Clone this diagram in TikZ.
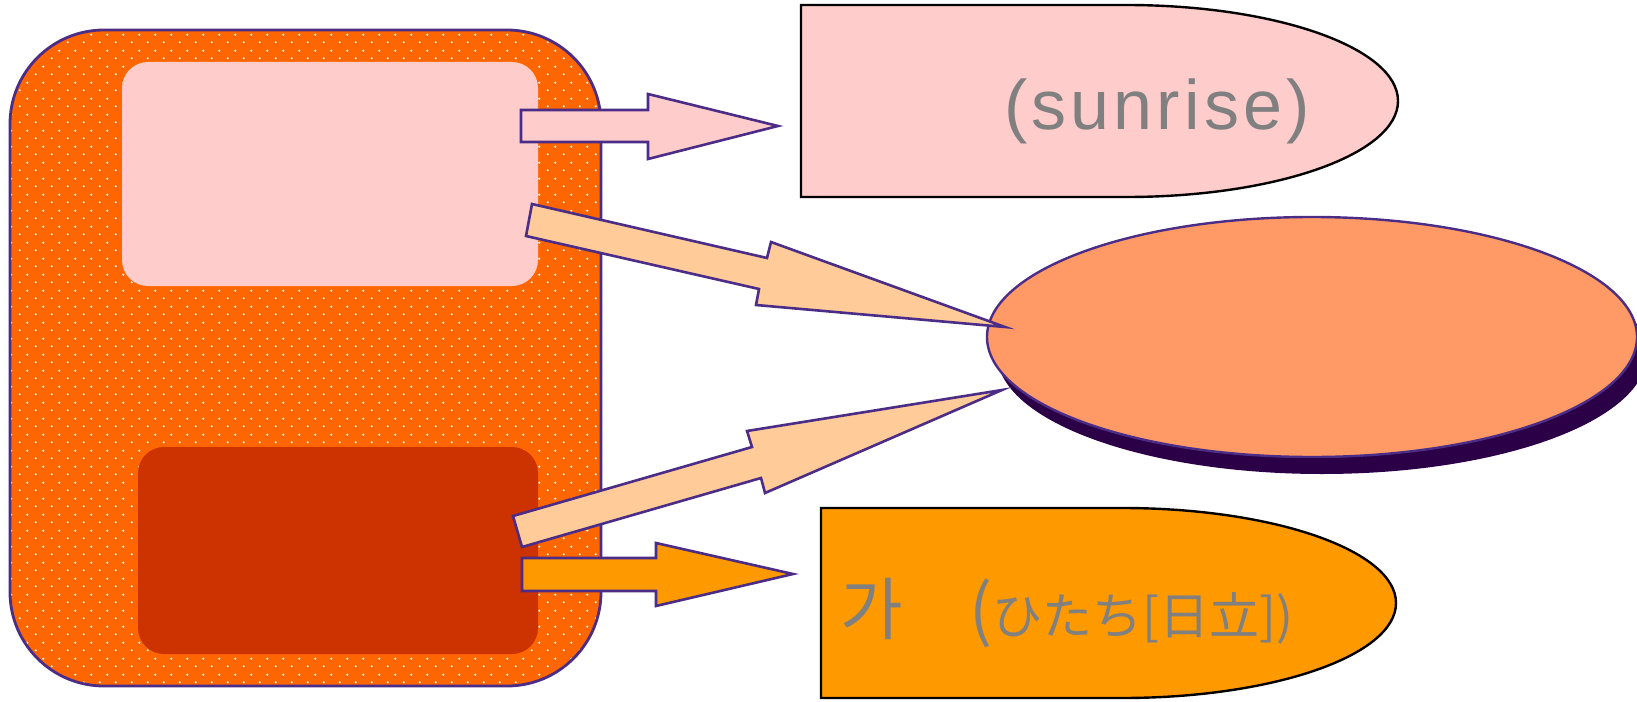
\documentclass[tikz,border=0pt]{standalone}
\usepackage{fontspec}
\setmainfont{Liberation Sans}
\newfontfamily\krfont{Noto Sans CJK KR}
\newfontfamily\jpfont{Noto Sans CJK JP}
\newfontfamily\latinsp[LetterSpace=6]{Liberation Sans}
\usetikzlibrary{shapes.geometric,shadows,patterns}
\definecolor{bgorange}{RGB}{255,102,0}
\definecolor{pinkc}{RGB}{255,204,204}
\definecolor{darkredc}{RGB}{204,51,0}
\definecolor{peachc}{RGB}{255,204,153}
\definecolor{salmonc}{RGB}{255,153,102}
\definecolor{orangec}{RGB}{255,153,0}
\definecolor{purp}{RGB}{75,45,135}
\definecolor{shadowc}{RGB}{44,0,70}
\definecolor{graytxt}{RGB}{128,128,128}
\pgfdeclarepatternformonly{wdots}{\pgfpointorigin}{\pgfpoint{8pt}{8pt}}{\pgfpoint{8pt}{8pt}}{%
  \pgfpathcircle{\pgfpoint{2pt}{2pt}}{0.6pt}%
  \pgfpathcircle{\pgfpoint{6pt}{6pt}}{0.6pt}%
  \pgfusepath{fill}}
\tikzset{
  outerbox/.style={rectangle, rounded corners=47pt, draw=purp, line width=1.4pt,
    preaction={fill=bgorange}, pattern=wdots, pattern color=white, inner sep=0pt},
  innerbox/.style={rectangle, rounded corners=13pt, inner sep=0pt},
  capsule/.style={draw=black, line width=1.2pt},
  blockarrow/.style={draw=purp, line width=1.3pt, line join=miter},
  graylabel/.style={text=graytxt, inner sep=0pt},
}
\begin{document}
\begin{tikzpicture}[x=0.5pt,y=-0.5pt]
\useasboundingbox (0,0) rectangle (1637,701);
% left container
\node[outerbox, minimum width=295.5pt, minimum height=328pt] (outer) at (305.5,358) {};
\node[innerbox, fill=pinkc, minimum width=208pt, minimum height=112pt] (pinkbox) at (330,174) {};
\node[innerbox, fill=darkredc, minimum width=200pt, minimum height=103.5pt] (redbox) at (338,550.5) {};
% right shapes
\draw[capsule, fill=pinkc] (801,5) -- (1126,5) arc[start angle=90, end angle=-90, x radius=136pt, y radius=48pt] -- (801,197) -- cycle;
\draw[capsule, fill=orangec] (821,508) -- (1122,508) arc[start angle=90, end angle=-90, x radius=137pt, y radius=47.5pt] -- (821,698) -- cycle;
\node[ellipse, draw=purp, line width=1.2pt, fill=salmonc, minimum width=325pt, minimum height=120pt, inner sep=0pt,
  drop shadow={shadow xshift=5pt, shadow yshift=-8.5pt, fill=shadowc, opacity=1}] (mid) at (1312,337) {};
% texts
\node[graylabel, font=\latinsp\fontsize{35pt}{40pt}\selectfont] (sunrise) at (1157,111) {(sunrise)};
\node[graylabel, font=\krfont\fontsize{34pt}{40pt}\selectfont] (ga) at (872,609) {가};
\node[graylabel, font=\krfont\fontsize{34pt}{40pt}\selectfont] (paren) at (981,613) {(};
\node[graylabel, anchor=west, font=\jpfont\fontsize{25pt}{30pt}\selectfont] (hitachi) at (992,618) {ひたち[日立])};
% block arrows
\draw[blockarrow, fill=pinkc] (521,110) -- (648,110) -- (648,94) -- (778,126) -- (648,159) -- (648,142) -- (521,142) -- cycle;
\draw[blockarrow, fill=peachc] (532,204) -- (767,258) -- (771,242) -- (1005,327) -- (756,305) -- (759,289) -- (526,236) -- cycle;
\draw[blockarrow, fill=peachc] (513,516) -- (752,447) -- (747,431) -- (1002,390) -- (765,493) -- (761,478) -- (522,547) -- cycle;
\draw[blockarrow, fill=orangec] (522,558) -- (656,558) -- (656,543) -- (793,574) -- (656,606) -- (656,591) -- (522,591) -- cycle;
\end{tikzpicture}
\end{document}
